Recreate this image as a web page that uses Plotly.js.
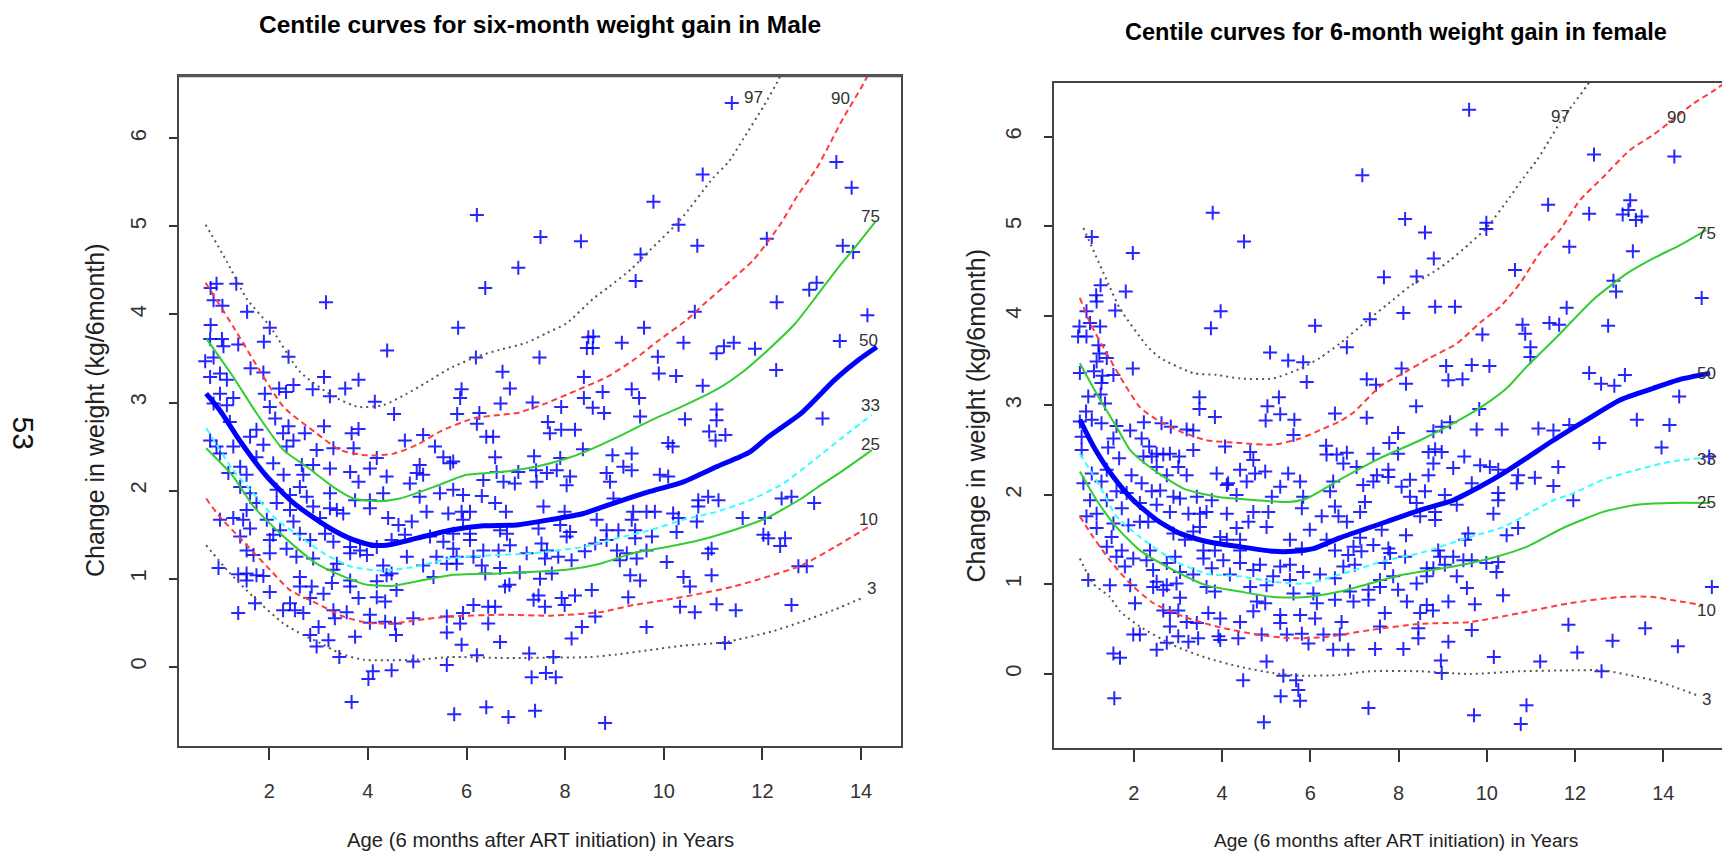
<!DOCTYPE html>
<html>
<head>
<meta charset="utf-8">
<script src="https://cdn.plot.ly/plotly-3.0.1.min.js"></script>
<style>
html, body { margin: 0; padding: 0; background: #fff; overflow: hidden; }
#chart { width: 1722px; height: 853px; }
</style>
</head>
<body>
<div id="chart"></div>
<script>
// ---------------- DATA ----------------
const xTicks = [2, 4, 6, 8, 10, 12, 14];
const yTicks = [0, 1, 2, 3, 4, 5, 6];
const centileNames = ["97", "90", "75", "50", "33", "25", "10", "3"];

// Male: observed points [age, weight change]
const malePoints = [
[0.93,4.35],[0.81,4.30],[1.33,4.35],[0.87,4.16],[1.05,4.10],[3.15,4.14],[1.55,4.03],[0.81,3.88],[2.01,3.85],[0.80,3.72],[1.04,3.72],[1.07,3.64],[1.37,3.66],[1.89,3.69],[0.70,3.47],[0.87,3.51],[2.39,3.52],[4.39,3.59],[0.80,3.29],[1.00,3.33],[1.14,3.26],[1.62,3.39],[1.88,3.34],[3.11,3.29],[3.81,3.26],[1.00,3.10],[1.27,3.05],[1.91,3.10],[2.20,3.16],[2.34,3.12],[2.49,3.20],[2.88,3.15],[3.23,3.07],[3.54,3.16],[4.14,3.01],[2.01,2.95],[2.12,2.82],[0.87,2.99],[1.14,2.97],[1.20,2.78],[2.39,2.73],[3.11,2.73],[4.53,2.87],[3.81,2.70],[3.67,2.65],[2.72,2.65],[2.28,2.65],[2.49,2.57],[1.74,2.69],[1.61,2.61],[1.27,2.50],[0.80,2.57],[0.93,2.50],[1.88,2.52],[2.35,2.50],[2.96,2.46],[3.30,2.48],[3.71,2.48],[4.75,2.57],[5.12,2.63],[5.36,2.50],
[1.00,2.42],[1.74,2.38],[4.18,2.37],[5.53,2.38],[5.67,2.31],[5.05,2.29],[5.12,2.18],[1.41,2.27],[1.54,2.18],[2.08,2.31],[2.29,2.18],[2.66,2.29],[2.69,2.18],[2.89,2.29],[3.23,2.25],[3.64,2.21],[4.04,2.25],[4.38,2.16],[3.81,2.10],[4.99,2.20],[1.17,2.20],[4.85,2.08],
[1.41,2.04],[1.61,1.97],[2.15,2.01],[2.42,1.95],[2.62,2.04],[2.76,1.93],[3.23,1.97],[3.74,1.89],[4.04,1.89],[4.31,1.97],[5.05,1.93],[5.46,1.97],[1.74,1.86],[1.54,1.78],[2.15,1.86],[2.42,1.78],[2.89,1.82],[3.23,1.80],[3.37,1.78],[3.50,1.74],[4.04,1.80],[4.41,1.69],[4.89,1.65],[4.62,1.61],[5.19,1.76],[5.63,1.74],[1.00,1.67],[1.27,1.69],[1.47,1.67],[1.95,1.67],[2.49,1.65],[3.03,1.69],
[1.61,1.57],[2.08,1.50],[2.22,1.55],[2.01,1.44],[2.62,1.51],[2.83,1.44],[3.13,1.51],[3.30,1.42],[3.64,1.36],[3.84,1.32],[4.18,1.36],[4.48,1.44],[4.75,1.50],[5.26,1.48],[5.53,1.42],[1.41,1.48],[1.54,1.32],
[1.68,1.27],[2.01,1.29],[2.35,1.34],[2.55,1.25],[2.89,1.23],[3.37,1.17],[3.64,1.29],[3.98,1.27],[4.31,1.15],[4.48,1.06],[4.79,1.25],[5.12,1.15],[5.39,1.25],[5.60,1.17],[3.30,1.10],[1.54,1.06],[1.74,1.04],[1.88,1.03],[1.37,1.05],[0.97,1.12],[2.62,1.02],[3.64,0.98],[4.18,0.97],[4.38,1.04],[5.33,1.02],
[1.54,0.98],[2.01,0.85],[2.62,0.91],[2.86,0.91],[3.10,0.83],[3.27,0.95],[4.18,0.79],[4.35,0.74],[4.58,0.87],[3.81,0.78],[3.64,0.91],[2.83,0.78],[1.71,0.72],[1.37,0.61],[2.28,0.64],[2.42,0.72],[2.52,0.64],[2.69,0.61],[3.30,0.64],[3.33,0.55],[3.57,0.62],[4.04,0.59],[4.04,0.50],[4.35,0.51],[4.55,0.49],[4.92,0.55],[5.60,0.57],
[2.83,0.36],[3.00,0.45],[2.96,0.23],[3.20,0.30],[3.42,0.11],[3.74,0.34],[4.57,0.36],[5.60,0.39],[4.92,0.06],[5.60,0.02],[4.10,-0.05],[4.01,-0.14],[4.48,-0.04],[3.67,-0.40],
[11.38,6.40],[13.50,5.73],[13.81,5.44],[6.21,5.13],[10.79,5.59],[9.79,5.28],[10.30,5.02],[7.50,4.88],[8.32,4.83],[9.53,4.68],[10.68,4.78],[12.09,4.86],[13.63,4.78],[13.84,4.71],[7.05,4.53],[9.43,4.38],[6.38,4.30],[13.10,4.36],[12.95,4.28],[12.29,4.14],[10.63,4.03],[14.13,3.99],[5.83,3.85],[9.60,3.85],[8.47,3.74],[8.57,3.75],[8.44,3.62],[8.56,3.62],[9.15,3.68],[10.40,3.68],[11.22,3.64],[11.42,3.68],[11.07,3.56],[11.85,3.61],[13.57,3.70],[12.28,3.37],[6.19,3.51],[7.48,3.51],[9.88,3.52],[6.73,3.35],[8.38,3.29],[9.90,3.33],[10.25,3.30],[10.79,3.19],[5.90,3.15],[6.88,3.16],[9.35,3.15],[5.87,3.05],[6.69,2.99],[7.34,3.00],[8.38,3.05],[8.76,3.12],[9.50,3.05],[7.92,2.95],[8.56,2.94],[5.81,2.87],[6.26,2.88],[6.21,2.76],[8.79,2.88],[9.52,2.84],[11.07,2.92],[11.07,2.80],[10.43,2.81],[13.22,2.82],[7.65,2.78],[7.69,2.65],[7.92,2.69],[8.20,2.69],[6.40,2.61],[6.54,2.61],[10.92,2.67],[11.05,2.57],[11.25,2.63],[10.09,2.54],[10.18,2.50],[8.36,2.47],[8.96,2.40],[9.35,2.42],[6.58,2.38],[7.37,2.39],[7.90,2.37],
[5.73,2.33],[6.61,2.21],[7.05,2.21],[7.41,2.23],[7.63,2.20],[7.83,2.23],[8.10,2.16],[6.34,2.12],[6.75,2.10],[6.98,2.08],[7.42,2.10],[8.03,2.06],[8.84,2.20],[8.91,2.10],[9.18,2.27],[9.35,2.23],[9.92,2.18],[10.09,2.16],[5.73,2.01],[5.93,1.95],[6.31,1.94],[6.58,1.86],[6.80,1.76],[7.56,1.82],[5.90,1.76],[6.07,1.76],[5.93,1.67],[7.99,1.76],[8.64,1.67],[8.98,1.91],[9.38,1.76],[9.65,1.76],[9.82,1.76],[10.19,1.74],[10.30,1.69],[10.70,1.89],[10.90,1.93],[11.11,1.89],[10.70,1.82],[10.67,1.65],[9.35,1.67],[12.39,1.91],[12.59,1.93],[13.05,1.86],[11.60,1.69],[12.05,1.69],
[5.73,1.51],[6.07,1.51],[6.68,1.55],[6.82,1.51],[7.46,1.57],[7.90,1.61],[8.10,1.53],[8.84,1.55],[9.08,1.55],[9.42,1.55],[10.26,1.53],[9.42,1.46],[9.76,1.48],[8.03,1.48],[6.07,1.44],[6.88,1.38],[7.52,1.40],[8.61,1.40],[8.84,1.44],[5.73,1.34],[6.34,1.32],[6.65,1.32],[7.22,1.29],[7.63,1.32],[8.40,1.31],[9.05,1.32],[9.25,1.29],[9.65,1.32],[10.97,1.34],[10.90,1.29],[5.80,1.25],[6.14,1.25],[7.59,1.23],[7.86,1.25],[8.13,1.21],[9.11,1.21],[9.45,1.23],[10.06,1.19],[5.80,1.17],[6.31,1.15],[6.68,1.12],[6.38,1.06],[7.08,1.07],[7.73,1.06],[9.32,1.04],[9.52,0.98],[10.40,1.02],[10.53,0.91],[10.97,1.04],[12.02,1.50],[12.12,1.46],[12.46,1.46],[12.36,1.37],[12.73,1.14],[12.90,1.14],
[6.78,0.91],[6.87,0.93],[7.49,1.00],[7.46,0.81],[7.36,0.76],[7.93,0.78],[8.20,0.81],[8.54,0.87],[7.99,0.70],[9.28,0.79],[6.14,0.70],[6.44,0.68],[6.58,0.68],[7.59,0.68],[10.33,0.68],[10.63,0.62],[11.07,0.71],[11.46,0.64],[12.59,0.70],[5.93,0.61],[8.61,0.57],[5.87,0.49],[6.44,0.49],[8.34,0.45],[9.65,0.45],[8.13,0.32],[6.68,0.28],[5.90,0.25],[11.24,0.27],[6.21,0.13],[7.27,0.15],[7.76,0.11],[7.32,-0.12],[7.61,-0.07],[7.81,-0.12],[5.75,-0.54],[6.40,-0.46],[6.85,-0.57],[7.39,-0.50],[8.81,-0.64]
];

// Male centile curves
const m97x = [0.71,1.14,1.54,2.02,2.62,3.30,3.81,4.31,4.79,5.16,5.67,6.21,6.68,7.22,7.63,8.03,8.57,8.88,9.35,9.72,10.33,11.00,11.31,11.62,12.02,12.33,12.50];
const m97y = [5.02,4.60,4.18,3.86,3.35,3.07,2.95,2.97,3.10,3.22,3.39,3.52,3.60,3.68,3.79,3.90,4.18,4.31,4.52,4.73,5.07,5.55,5.73,6.00,6.36,6.67,6.90];
const m90x = [0.71,1.27,1.68,2.29,2.96,3.44,3.98,4.52,5.00,5.46,6.14,6.68,7.02,7.56,8.24,8.85,9.38,9.86,10.47,10.80,11.41,11.82,12.36,12.70,13.10,13.37,13.64,14.05,14.30];
const m90y = [4.36,3.86,3.48,2.95,2.65,2.46,2.40,2.42,2.52,2.67,2.82,2.86,2.88,2.98,3.14,3.29,3.48,3.69,3.94,4.11,4.41,4.62,5.02,5.34,5.66,5.94,6.23,6.62,6.90];
const m75x = [0.73,1.27,1.74,2.29,2.76,3.30,3.71,4.18,4.65,5.33,6.00,6.68,7.40,8.06,8.40,9.07,9.75,10.43,11.11,11.65,12.12,12.67,13.14,13.55,13.89,14.29];
const m75y = [3.72,3.29,2.88,2.46,2.27,2.04,1.91,1.88,1.91,2.04,2.18,2.21,2.27,2.37,2.44,2.61,2.80,2.97,3.16,3.37,3.60,3.90,4.24,4.54,4.77,5.05];
const m50x = [0.72,1.00,1.41,1.95,2.49,2.96,3.30,3.71,4.11,4.38,5.00,5.67,6.34,7.02,7.70,8.37,9.05,9.72,10.40,11.07,11.75,12.12,12.79,13.47,13.94,14.32];
const m50y = [3.10,2.91,2.56,2.16,1.86,1.67,1.55,1.44,1.38,1.38,1.46,1.55,1.60,1.61,1.67,1.74,1.87,1.99,2.10,2.27,2.44,2.61,2.88,3.26,3.48,3.63];
const m33x = [0.72,1.27,1.61,2.15,2.62,3.10,3.64,4.31,5.00,5.67,6.34,7.36,8.37,9.05,9.72,10.40,11.07,11.75,12.42,13.10,13.64,14.22];
const m33y = [2.71,2.23,2.01,1.67,1.48,1.29,1.14,1.09,1.14,1.23,1.26,1.29,1.36,1.46,1.55,1.67,1.76,1.89,2.08,2.37,2.61,2.86];
const m25x = [0.72,1.27,1.68,2.29,2.96,3.44,3.98,4.52,5.00,5.67,6.68,8.03,8.71,9.38,10.06,10.74,11.41,12.09,12.79,13.10,13.64,14.22];
const m25y = [2.48,2.16,1.82,1.48,1.17,1.04,0.93,0.92,0.97,1.04,1.06,1.10,1.17,1.29,1.36,1.44,1.55,1.69,1.91,2.03,2.23,2.46];
const m10x = [0.72,1.00,1.41,1.95,2.42,2.96,3.50,3.98,4.52,5.00,5.67,6.68,7.70,8.71,9.38,10.06,10.74,11.41,12.09,12.79,13.47,14.22];
const m10y = [1.91,1.70,1.46,1.14,0.87,0.72,0.57,0.50,0.49,0.53,0.57,0.59,0.58,0.62,0.70,0.76,0.83,0.91,1.02,1.15,1.36,1.61];
const m3x = [0.72,1.14,1.68,2.29,2.69,3.03,3.44,3.91,5.00,5.67,6.68,7.02,8.51,9.05,9.72,10.40,11.24,12.19,12.79,13.47,14.02];
const m3y = [1.38,1.10,0.79,0.49,0.36,0.27,0.15,0.08,0.08,0.11,0.10,0.10,0.11,0.14,0.19,0.24,0.28,0.40,0.51,0.65,0.78];
const maleLabelX = [11.82,13.58,14.20,14.15,14.19,14.20,14.15,14.22];
const maleLabelY = [6.46,6.45,5.11,3.71,2.97,2.52,1.67,0.89];

// Female: observed points [age, weight change]
const femalePoints = [
[3.79,5.15],[4.50,4.83],[1.05,4.88],[1.98,4.70],[1.25,4.34],[1.15,4.23],[1.16,4.16],[1.82,4.27],[1.58,4.06],[3.97,4.05],[0.93,4.05],[0.77,3.88],[1.01,3.92],[1.24,3.88],[3.75,3.86],[6.11,3.89],[0.74,3.77],[0.93,3.77],[1.20,3.67],[1.22,3.58],[1.39,3.53],[1.16,3.49],[5.09,3.59],[5.50,3.50],[5.84,3.48],[1.98,3.41],[0.78,3.36],[1.10,3.38],[1.29,3.33],[1.54,3.34],[5.92,3.26],[1.27,3.25],[1.25,3.12],[0.97,3.10],[3.49,3.09],[5.29,3.09],[3.49,2.96],[5.03,2.99],[0.92,2.93],[1.35,3.02],[5.32,2.90],[3.84,2.87],[4.99,2.83],[5.64,2.84],[0.78,2.82],[1.05,2.84],[1.27,2.80],[2.23,2.81],[2.63,2.80],[2.84,2.76],[3.20,2.73],[3.35,2.72],[1.92,2.72],[1.61,2.77],[0.82,2.65],[5.62,2.67],[2.18,2.63],[1.54,2.63],[2.35,2.54],[4.07,2.54],[0.82,2.50],[1.42,2.53],[3.35,2.50],[4.64,2.48],[2.67,2.45],[2.82,2.46],[3.03,2.43],[2.41,2.43],[1.67,2.41],
[2.22,2.43],[2.52,2.46],[3.01,2.31],[4.71,2.39],[1.95,2.22],[2.18,2.13],[2.52,2.31],[2.75,2.22],[3.20,2.22],[3.88,2.24],[4.41,2.28],[4.75,2.24],[4.98,2.26],[5.50,2.24],[4.56,2.15],[4.11,2.11],[5.77,2.15],[5.32,2.09],[1.39,2.28],[1.05,2.24],[0.86,2.13],[1.27,2.15],
[1.61,2.04],[1.84,2.02],[2.41,2.04],[2.60,2.05],[2.90,1.98],[3.05,1.96],[3.43,1.98],[3.77,1.94],[4.14,2.13],[4.33,2.00],[5.13,1.98],[5.84,1.98],[5.81,1.85],[1.01,1.94],[1.39,1.94],[1.16,1.79],[1.73,1.85],[2.14,1.91],[2.52,1.89],[2.82,1.81],[3.24,1.79],[3.50,1.79],[3.65,1.81],[4.11,1.79],[4.71,1.81],[5.05,1.81],[6.26,1.76],
[0.93,1.76],[1.54,1.68],[1.16,1.63],[1.88,1.66],[2.14,1.70],[2.33,1.70],[3.50,1.64],[4.33,1.63],[4.60,1.70],[5.01,1.64],[5.99,1.61],[1.50,1.53],[2.90,1.57],[3.16,1.50],[3.35,1.59],[3.96,1.53],[4.11,1.50],[4.41,1.50],[5.54,1.50],[2.37,1.38],[1.73,1.38],[1.39,1.42],[3.58,1.38],[3.84,1.38],[4.41,1.38],[5.81,1.40],
[1.61,1.31],[1.99,1.29],[2.29,1.27],[2.75,1.24],[2.94,1.31],[3.58,1.29],[4.03,1.27],[4.41,1.24],[4.86,1.22],[5.32,1.20],[5.54,1.22],[1.80,1.20],[2.44,1.16],[3.05,1.14],[3.35,1.11],[3.77,1.18],[4.18,1.11],[4.71,1.16],[5.16,1.09],[5.54,1.05],[5.84,1.14],[6.22,1.11],[0.97,1.05],[1.46,0.99],[1.92,0.99],[2.52,1.03],[2.75,0.99],[2.97,1.01],
[2.44,0.97],[2.67,0.94],[3.65,0.97],[3.84,0.92],[4.64,0.97],[5.01,0.99],[6.07,0.90],[5.62,0.90],[3.05,0.85],[4.79,0.81],[4.98,0.79],[6.15,0.79],[2.03,0.79],[2.67,0.71],[2.82,0.68],[3.01,0.71],[3.69,0.68],[3.96,0.62],[4.71,0.70],[5.32,0.66],[5.77,0.66],[6.11,0.62],[3.20,0.58],[3.43,0.57],[4.41,0.58],[5.32,0.57],[2.82,0.53],[1.99,0.44],[2.14,0.44],[3.01,0.42],[3.24,0.36],[3.46,0.40],[3.92,0.42],[3.96,0.38],[4.37,0.40],[4.90,0.44],[5.47,0.44],[5.81,0.45],[5.96,0.34],[6.30,0.44],[2.52,0.27],[2.75,0.35],[1.54,0.23],[1.69,0.18],[5.01,0.14],[5.39,-0.02],[5.68,-0.07],[4.48,-0.07],[5.73,-0.18],[5.77,-0.30],[5.33,-0.25],[1.56,-0.27],[4.95,-0.54],
[9.60,6.30],[7.18,5.57],[12.43,5.80],[14.25,5.78],[8.15,5.08],[8.60,4.93],[9.99,5.04],[9.99,4.97],[11.39,5.24],[12.32,5.14],[13.25,5.29],[13.21,5.18],[13.08,5.13],[13.38,5.07],[13.51,5.11],[8.80,4.64],[11.87,4.77],[13.31,4.72],[7.67,4.43],[8.41,4.44],[10.64,4.51],[12.87,4.39],[12.93,4.27],[14.87,4.20],[6.83,3.65],[7.35,3.96],[8.11,4.03],[8.83,4.10],[9.28,4.10],[11.81,4.09],[9.90,3.79],[10.81,3.90],[10.87,3.80],[11.42,3.92],[11.64,3.90],[12.75,3.89],[10.99,3.65],[10.99,3.54],[6.36,2.55],[7.28,3.29],[7.49,3.23],[8.07,3.41],[8.17,3.24],[9.08,3.44],[9.13,3.28],[9.45,3.29],[9.66,3.45],[10.06,3.44],[12.32,3.36],[12.59,3.24],[12.89,3.22],[13.13,3.34],[14.36,3.10],[6.56,2.91],[7.28,2.86],[8.40,2.99],[9.83,2.96],[7.99,2.69],[7.79,2.58],[8.79,2.71],[8.98,2.76],[9.17,2.81],[9.77,2.73],[10.34,2.73],[11.17,2.74],[11.51,2.72],[11.87,2.78],[13.40,2.84],[14.14,2.78],[12.55,2.58],[13.96,2.53],[15.04,2.43],[6.83,2.47],[7.43,2.46],[7.99,2.46],[8.68,2.48],[8.83,2.51],[8.98,2.48],[9.49,2.43],
[6.37,2.45],[6.60,2.45],[6.75,2.35],[7.05,2.31],[7.51,2.22],[7.77,2.28],[7.77,2.20],[8.26,2.17],[8.68,2.22],[8.79,2.35],[9.24,2.30],[9.85,2.33],[10.07,2.31],[10.26,2.28],[10.71,2.22],[11.09,2.19],[11.62,2.31],[9.66,2.13],[10.68,2.13],[11.51,2.10],[6.52,2.15],[7.20,2.11],[7.43,2.15],[8.07,2.09],[8.60,2.04],[9.05,2.00],[10.26,2.02],[10.26,1.94],[6.45,2.04],[8.26,1.98],[7.24,1.92],[8.41,1.91],[9.32,1.89],[11.96,1.94],[6.56,1.87],[7.13,1.81],[8.83,1.81],[10.15,1.79],[6.64,1.76],[6.83,1.70],[8.49,1.76],[8.83,1.72],[9.58,1.57],[10.45,1.55],[10.71,1.63],[7.62,1.61],[8.17,1.55],[6.37,1.50],[7.13,1.52],[7.43,1.44],[7.77,1.40],[6.98,1.42],[6.56,1.38],[6.86,1.33],[7.16,1.37],[7.81,1.35],[8.15,1.31],[8.90,1.38],[9.24,1.31],[9.47,1.27],[9.66,1.27],[8.94,1.31],[9.51,1.50],[6.75,1.20],[7.01,1.22],[7.69,1.24],[8.79,1.18],[9.05,1.22],[9.99,1.24],[10.26,1.25],[6.56,1.07],[7.58,1.05],[7.88,1.09],[8.64,1.09],[9.32,1.09],[10.22,1.14],[8.64,1.18],[7.58,0.97],[7.99,0.94],[8.41,1.01],[7.32,0.94],[6.90,0.92],[9.55,0.96],[10.37,0.88],[6.56,0.83],[6.98,0.81],[7.32,0.83],[8.19,0.81],[8.64,0.77],[9.13,0.81],[9.73,0.78],[7.69,0.68],[8.49,0.68],[8.78,0.71],[6.71,0.58],[7.58,0.53],[8.45,0.51],[9.66,0.49],[11.85,0.55],[13.59,0.51],[6.67,0.44],[8.45,0.40],[9.13,0.36],[12.85,0.37],[14.33,0.31],[15.10,0.97],[6.52,0.27],[6.86,0.27],[7.47,0.28],[8.11,0.28],[10.16,0.19],[12.05,0.24],[8.96,0.15],[11.21,0.14],[8.98,0.01],[12.60,0.03],[7.32,-0.38],[9.71,-0.46],[10.90,-0.35],[10.77,-0.56]
];

// Female centile curves
const f97x = [0.86,1.46,1.69,2.29,2.60,3.35,3.88,4.41,5.16,5.77,6.22,6.67,7.35,7.88,8.26,8.86,9.17,9.62,9.99,10.53,10.83,11.14,11.44,11.66,11.97,12.27,12.50];
const f97y = [4.98,4.32,4.08,3.67,3.53,3.36,3.34,3.30,3.30,3.41,3.53,3.69,3.97,4.18,4.33,4.51,4.62,4.81,4.98,5.33,5.54,5.74,5.98,6.16,6.37,6.57,6.75];
const f90x = [0.78,1.01,1.31,1.69,2.14,2.52,3.05,3.65,4.41,5.16,5.77,6.30,6.67,6.98,7.58,8.18,8.71,9.32,9.84,10.30,10.75,11.20,11.66,12.11,12.64,13.24,13.77,14.22,14.68,15.10,15.40];
const f90y = [4.20,3.92,3.65,3.32,2.98,2.84,2.71,2.61,2.58,2.56,2.63,2.74,2.82,2.92,3.21,3.38,3.53,3.69,3.92,4.10,4.36,4.70,4.96,5.29,5.55,5.85,6.02,6.19,6.37,6.50,6.60];
const f75x = [0.78,1.16,1.61,1.92,2.45,3.13,3.88,4.79,5.47,5.92,6.67,7.58,8.49,9.39,9.99,10.45,10.90,11.66,12.41,13.17,13.77,14.38,14.98];
const f75y = [3.47,3.13,2.76,2.50,2.28,2.07,1.98,1.94,1.92,1.96,2.17,2.41,2.61,2.84,3.02,3.19,3.43,3.80,4.18,4.47,4.64,4.79,4.96];
const f50x = [0.78,1.08,1.54,1.99,2.52,3.05,3.65,4.41,5.16,5.62,6.07,6.67,7.73,8.49,9.24,9.84,10.37,10.90,11.51,12.27,13.02,13.77,14.38,15.06];
const f50y = [2.84,2.55,2.20,1.94,1.72,1.57,1.48,1.42,1.37,1.37,1.40,1.52,1.70,1.83,1.94,2.09,2.24,2.41,2.61,2.84,3.06,3.19,3.29,3.36];
const f33x = [0.78,1.24,1.61,2.14,2.90,3.65,4.41,5.16,5.92,6.67,7.73,8.49,9.62,10.37,10.90,11.51,11.97,12.64,13.40,14.15,14.83];
const f33y = [2.46,2.09,1.76,1.53,1.27,1.12,1.09,1.03,1.01,1.11,1.27,1.35,1.53,1.64,1.78,1.94,2.02,2.17,2.28,2.37,2.41];
const f25x = [0.78,1.16,1.61,2.14,2.90,3.65,4.41,5.16,5.92,6.67,8.11,9.24,10.22,10.90,11.73,12.64,13.40,14.15,15.06];
const f25y = [2.26,1.94,1.64,1.38,1.16,0.99,0.92,0.86,0.86,0.92,1.11,1.20,1.31,1.42,1.63,1.81,1.89,1.91,1.91];
const f10x = [0.78,1.08,1.46,1.92,2.45,3.13,3.88,4.79,5.54,6.30,7.35,8.49,9.62,10.75,11.88,13.02,13.77,14.38,14.90];
const f10y = [1.76,1.53,1.27,1.01,0.79,0.64,0.53,0.44,0.40,0.41,0.49,0.56,0.58,0.68,0.79,0.86,0.86,0.81,0.77];
const f3x = [0.78,1.08,1.46,1.69,2.14,2.90,3.65,4.41,5.16,5.77,6.67,7.35,8.49,9.62,10.75,11.88,12.64,13.40,13.77,14.22,14.83];
const f3y = [1.29,1.01,0.86,0.70,0.53,0.32,0.18,0.08,0.01,-0.02,-0.01,0.03,0.03,0.00,0.03,0.04,0.04,-0.03,-0.07,-0.14,-0.25];
const femaleLabelX = [11.68,14.30,14.98,14.98,14.98,14.98,14.98,14.98];
const femaleLabelY = [6.23,6.22,4.92,3.36,2.40,1.91,0.71,-0.28];

// ---------------- STYLES ----------------
const FONT = "Liberation Sans, Arial, Helvetica, sans-serif";
const W = 1722, H = 853;
const px = v => v / W;           // horizontal pixel -> paper
const py = v => 1 - v / H;       // vertical pixel -> paper

const curveStyle = {
  "97": {color: "#555555", width: 2, dash: "2px,4px"},
  "90": {color: "#ff3b3b", width: 2, dash: "6px,4px"},
  "75": {color: "#33cc33", width: 2, dash: "solid"},
  "50": {color: "#0000ff", width: 5, dash: "solid"},
  "33": {color: "#33ffff", width: 2, dash: "6px,4px"},
  "25": {color: "#33cc33", width: 2, dash: "solid"},
  "10": {color: "#ff3b3b", width: 2, dash: "6px,4px"},
  "3":  {color: "#555555", width: 2, dash: "2px,4px"}
};

const maleCurves = {"97":[m97x,m97y],"90":[m90x,m90y],"75":[m75x,m75y],"50":[m50x,m50y],"33":[m33x,m33y],"25":[m25x,m25y],"10":[m10x,m10y],"3":[m3x,m3y]};
const femaleCurves = {"97":[f97x,f97y],"90":[f90x,f90y],"75":[f75x,f75y],"50":[f50x,f50y],"33":[f33x,f33y],"25":[f25x,f25y],"10":[f10x,f10y],"3":[f3x,f3y]};

function panelTraces(points, curves, xa, ya) {
  const tr = [{
    type: "scatter", mode: "markers", xaxis: xa, yaxis: ya,
    x: points.map(p => p[0]), y: points.map(p => p[1]),
    marker: {symbol: "cross-thin", size: 10, color: "rgba(0,0,255,0.85)",
             line: {width: 2, color: "rgba(0,0,255,0.85)"}},
    hoverinfo: "x+y", showlegend: false
  }];
  centileNames.forEach(n => {
    const s = curveStyle[n];
    tr.push({
      type: "scatter", mode: "lines", xaxis: xa, yaxis: ya,
      x: curves[n][0], y: curves[n][1],
      line: {color: s.color, width: s.width, dash: s.dash, shape: "spline", smoothing: 0.6},
      name: n, showlegend: false, hoverinfo: "name"
    });
  });
  return tr;
}

const data = panelTraces(malePoints, maleCurves, "x", "y")
  .concat(panelTraces(femalePoints, femaleCurves, "x2", "y2"));

function axisBase() {
  return {
    showgrid: false, zeroline: false, showline: true, linewidth: 2, linecolor: "#444",
    ticks: "outside", tickwidth: 2, tickcolor: "#333",
    tickfont: {family: FONT, size: 20, color: "#333"}
  };
}

const xaxis = Object.assign(axisBase(), {
  domain: [px(179), px(900.7)], range: [0.169, 14.805], anchor: "y",
  tickvals: xTicks, ticktext: xTicks.map(String), ticklen: 12, mirror: true, ticklabelstandoff: 14
});
const yaxis = Object.assign(axisBase(), {
  domain: [py(746), py(75.7)], range: [-0.900, 6.711], anchor: "x",
  tickvals: yTicks, ticktext: yTicks.map(String), ticklen: 8, mirror: true, tickangle: -90,
  ticklabelstandoff: 14, tickfont: {family: FONT, size: 22, color: "#333"}
});
const xaxis2 = Object.assign(axisBase(), {
  domain: [px(1054), 1], range: [0.194, 15.33], anchor: "y2",
  tickvals: xTicks, ticktext: xTicks.map(String), ticklen: 12, mirror: true, ticklabelstandoff: 14
});
const yaxis2 = Object.assign(axisBase(), {
  domain: [py(748.3), py(82.7)], range: [-0.830, 6.603], anchor: "x2",
  tickvals: yTicks, ticktext: yTicks.map(String), ticklen: 8, mirror: false, tickangle: -90,
  ticklabelstandoff: 14, tickfont: {family: FONT, size: 22, color: "#333"}
});

const annotations = [];
function txt(x, y, text, size, opts) {
  annotations.push(Object.assign({
    xref: "paper", yref: "paper", x: x, y: y, text: text, showarrow: false,
    xanchor: "center", yanchor: "middle",
    font: {family: FONT, size: size, color: "#222"}
  }, opts || {}));
}
txt(px(540), py(25), "<b>Centile curves for six-month weight gain in Male</b>", 24.5, {font: {family: FONT, size: 24.5, color: "#000"}});
txt(px(1395.5), py(32), "<b>Centile curves for 6-month weight gain in female</b>", 23.5, {font: {family: FONT, size: 23.5, color: "#000"}});
txt(px(540), py(840), "Age (6 months after ART initiation) in Years", 20.3);
txt(px(1395.5), py(840), "Age (6 months after ART initiation) in Years", 19.1);
txt(px(95), py(410), "Change in weight (kg/6month)", 25, {textangle: -90});
txt(px(975), py(415.5), "Change in weight (kg/6month)", 25, {textangle: -90});
txt(px(23.5), py(433), "53", 30, {textangle: 90, font: {family: FONT, size: 30, color: "#111"}});

centileNames.forEach((n, i) => {
  annotations.push({xref: "x", yref: "y", x: maleLabelX[i], y: maleLabelY[i], text: n, showarrow: false,
    xanchor: "center", yanchor: "middle", font: {family: FONT, size: 17, color: "#333"}});
  annotations.push({xref: "x2", yref: "y2", x: femaleLabelX[i], y: femaleLabelY[i], text: n, showarrow: false,
    xanchor: "center", yanchor: "middle", font: {family: FONT, size: 17, color: "#333"}});
});

const shapes = [
  // heavier top border of the male panel
  {type: "line", xref: "paper", yref: "paper", x0: px(178), x1: px(901.7), y0: py(75.7), y1: py(75.7),
   line: {color: "#555", width: 3}}
];

const layout = {
  width: W, height: H,
  margin: {l: 0, r: 0, t: 0, b: 0, pad: 0},
  paper_bgcolor: "#fff", plot_bgcolor: "#fff",
  showlegend: false,
  xaxis: xaxis, yaxis: yaxis, xaxis2: xaxis2, yaxis2: yaxis2,
  annotations: annotations, shapes: shapes,
  font: {family: FONT}
};

Plotly.newPlot("chart", data, layout, {displayModeBar: false, staticPlot: true});
</script>
</body>
</html>
